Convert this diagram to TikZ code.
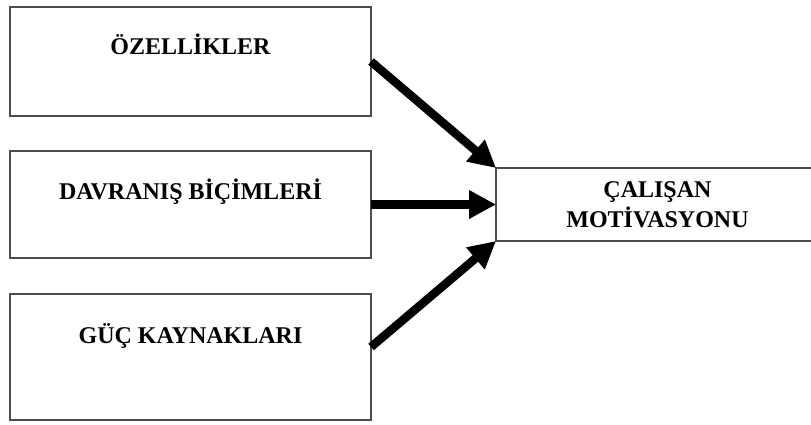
\documentclass[tikz,border=0pt]{standalone}
\usepackage{fontspec}
\setmainfont{Liberation Serif}
\usetikzlibrary{arrows.meta}
\begin{document}
\begin{tikzpicture}[x=1pt,y=-1pt,
 box/.style={draw=black!70,line width=1.2pt,inner sep=0pt,outer sep=0pt},
 lbl/.style={font=\bfseries\fontsize{24}{30}\selectfont,anchor=base,inner sep=0pt},
 arr/.style={line width=8.5pt,-{Triangle[length=27pt,width=27pt]}}]
\useasboundingbox (0,0) rectangle (811,424);
\clip (0,0) rectangle (811,424);
\node[box,minimum width=361pt,minimum height=109pt] (b1) at (190.5,61.5) {};
\node[box,minimum width=361pt,minimum height=107pt] (b2) at (190.5,204.5) {};
\node[box,minimum width=361pt,minimum height=126pt] (b3) at (190.5,357) {};
\node[box,minimum width=330pt,minimum height=73pt,anchor=north west] (mot) at (496,168) {};
\node[lbl] (t1) at (190.5,54) {ÖZELLİKLER};
\node[lbl] (t2) at (190.5,199) {DAVRANIŞ BİÇİMLERİ};
\node[lbl] (t3) at (190.5,343) {GÜÇ KAYNAKLARI};
\node[lbl] (t4) at (657.5,197) {ÇALIŞAN};
\node[lbl] (t5) at (657.5,227) {MOTİVASYONU};
\coordinate (s3) at (371,347);
\draw[arr] (b1.east) -- (mot.north west);
\draw[arr] (b2.east) -- (mot.west);
\draw[arr] (s3) -- (mot.south west);
\end{tikzpicture}
\end{document}
